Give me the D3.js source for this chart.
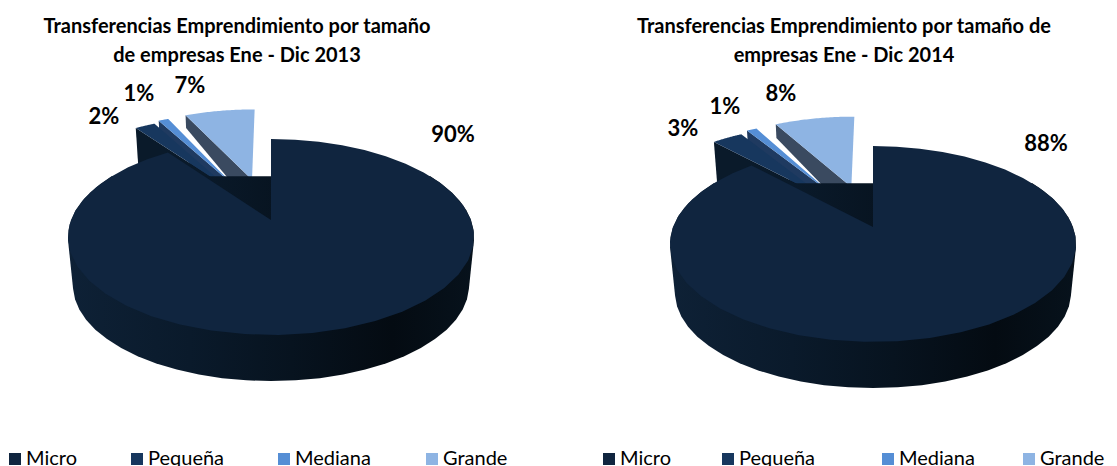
<!DOCTYPE html>
<html>
<head>
<meta charset="utf-8">
<script src="https://cdn.jsdelivr.net/npm/d3@7"></script>
<style>
  html, body { margin: 0; padding: 0; background: #fff; overflow: hidden; }
  text { font-family: Lato, "Open Sans", sans-serif; fill: #000; }
</style>
</head>
<body>
<svg id="chart" width="1117" height="466"></svg>
<script>
const categories = ["Micro", "Pequeña", "Mediana", "Grande"];
const values2013 = [90, 2, 1, 7];
const values2014 = [88, 3, 1, 8];
const titles2013 = ["Transferencias Emprendimiento por tamaño", "de empresas Ene - Dic 2013"];
const titles2014 = ["Transferencias Emprendimiento por tamaño de", "empresas Ene -  Dic 2014"];

const colors = ["#10253f", "#17375e", "#558ed5", "#8eb4e3"];
const wallColors = ["#0a1826", "#0a1a2a", "#1f3a60", "#3a4a60"];

const svg = d3.select("#chart");
const defs = svg.append("defs");

const grad = defs.append("linearGradient").attr("id", "rim");
grad.append("stop").attr("offset", "0%").attr("stop-color", "#0e2136");
grad.append("stop").attr("offset", "30%").attr("stop-color", "#0a1a2b");
grad.append("stop").attr("offset", "55%").attr("stop-color", "#07131f");
grad.append("stop").attr("offset", "80%").attr("stop-color", "#040b12");
grad.append("stop").attr("offset", "100%").attr("stop-color", "#07121c");

const line = d3.line();

function drawPie(cfg) {
  const g = svg.append("g");
  const R = 200, tilt = 95, persp = 5.76, depth = 49;
  const xScale = d3.scaleLinear().domain([-1, 1]).range([cfg.cx - R, cfg.cx + R]);
  const yScale = d3.scaleLinear().domain([-1, 1]).range([cfg.cy - tilt, cfg.cy + tilt]);

  function project(u, v, z) {
    const s = persp / (persp - v) * (1 - 0.025 * z / depth);
    return [xScale(u * s), yScale(v * s) + z];
  }

  const arcs = d3.pie().sort(null)(cfg.values);

  function arcPoints(a0, a1, ox, oy, z) {
    return d3.range(41).map(i => {
      const a = a0 + (a1 - a0) * i / 40;
      return project(ox + Math.sin(a), oy - Math.cos(a), z);
    });
  }

  // small slices first, they sit behind the big one
  [3, 2, 1].forEach(i => {
    const d = arcs[i];
    const mid = (d.startAngle + d.endAngle) / 2;
    const ox = Math.sin(mid) * cfg.explode[i];
    const oy = -Math.cos(mid) * cfg.explode[i];
    const w = cfg.walls[i];
    const outer = [ox + Math.sin(d.startAngle), oy - Math.cos(d.startAngle)];

    g.append("path")
      .attr("fill", wallColors[i])
      .attr("d", line([
        project(outer[0], outer[1], 0),
        project(ox, oy, 0),
        project(ox, oy, w[1]),
        project(outer[0], outer[1], w[0])
      ]) + "Z");

    g.append("path")
      .attr("fill", colors[i])
      .attr("d", line([project(ox, oy, 0)].concat(arcPoints(d.startAngle, d.endAngle, ox, oy, 0))) + "Z");
  });

  // rim of the big slice
  const d = arcs[0];
  const front = arcPoints(Math.PI / 3, Math.PI * 5 / 3, 0, 0, 0)
    .concat(arcPoints(Math.PI / 3, Math.PI * 5 / 3, 0, 0, depth));
  const hull = d3.polygonHull(front);
  const x0 = d3.min(hull, p => p[0]), x1 = d3.max(hull, p => p[0]);
  const gid = "rim" + cfg.cx;
  defs.append("linearGradient").attr("id", gid).attr("href", "#rim")
    .attr("gradientUnits", "userSpaceOnUse")
    .attr("x1", x0).attr("x2", x1).attr("y1", 0).attr("y2", 0);
  g.append("path").attr("fill", `url(#${gid})`).attr("d", line(hull) + "Z");

  g.append("path")
    .attr("fill", colors[0])
    .attr("d", line([project(0, 0, 0)].concat(arcPoints(d.startAngle, d.endAngle, 0, 0, 0))) + "Z");

  cfg.titles.forEach((t, i) => {
    svg.append("text")
      .attr("x", cfg.titleX).attr("y", 33 + i * 28.5)
      .attr("text-anchor", "middle")
      .attr("font-size", cfg.titleSize).attr("font-weight", 700)
      .text(t);
  });

  cfg.values.forEach((v, i) => {
    svg.append("text")
      .attr("x", cfg.labels[i][0]).attr("y", cfg.labels[i][1])
      .attr("text-anchor", "middle")
      .attr("font-size", 22).attr("font-weight", 700)
      .text(v + "%");
  });

  categories.forEach((c, i) => {
    svg.append("rect")
      .attr("x", cfg.legend[i]).attr("y", 453)
      .attr("width", 12).attr("height", 12)
      .attr("fill", colors[i]);
    svg.append("text")
      .attr("x", cfg.legend[i] + 17).attr("y", 464.5)
      .attr("font-size", 20)
      .text(c);
  });
}

drawPie({
  cx: 271, cy: 220,
  values: values2013,
  titles: titles2013, titleX: 237, titleSize: 20,
  explode: [0, 0.42, 0.45, 0.47],
  walls: [[0, 0], [45, 30], [10, 25], [12, 27]],
  labels: [[453, 142], [104, 124], [139, 101], [190, 93]],
  legend: [9, 131, 278, 426]
});

drawPie({
  cx: 873, cy: 227,
  values: values2014,
  titles: titles2014, titleX: 844, titleSize: 20,
  explode: [0, 0.42, 0.45, 0.47],
  walls: [[0, 0], [45, 30], [10, 25], [13, 28]],
  labels: [[1046, 151], [683, 136], [725, 114], [781, 101]],
  legend: [603, 722, 882, 1023]
});
</script>
</body>
</html>
